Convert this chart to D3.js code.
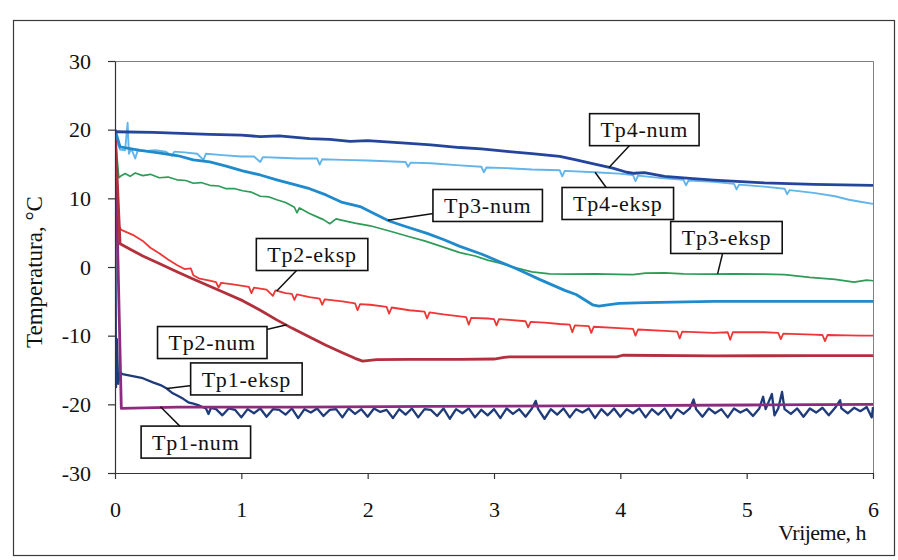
<!DOCTYPE html>
<html><head><meta charset="utf-8">
<script src="https://cdn.jsdelivr.net/npm/d3@7/dist/d3.min.js"></script>
<style>body{margin:0;background:#fff}svg{display:block}text{font-family:"Liberation Serif","DejaVu Serif",serif;fill:#111}</style>
</head><body><svg id="c" width="898" height="560"></svg>
<script>
// ---- data (time in h, temperature in °C) ----
const xTicks = [0,1,2,3,4,5,6];
const yTicks = [-30,-20,-10,0,10,20,30];
const xTitle = "Vrijeme, h";
const yTitle = "Temperatura, °C";

const tp4num = [[0,19.7],[0.3,19.6],[0.75,19.3],[1.0,19.2],[1.15,19.0],[1.3,19.1],[1.54,18.7],[1.7,18.6],[1.86,18.3],[2.0,18.4],[2.33,18.0],[2.5,17.8],[2.73,17.4],[2.9,17.2],[3.12,16.8],[3.3,16.5],[3.52,16.1],[3.65,15.6],[3.78,15.05],[3.94,14.4],[4.05,13.8],[4.11,13.65],[4.19,13.75],[4.35,13.2],[4.55,12.9],[4.74,12.66],[5.14,12.26],[5.53,12.04],[6,11.9]];
const tp4eksp = [[0,20],[0.02,18.0],[0.04,17.1],[0.08,17.0],[0.1,21.0],[0.11,16.5],[0.13,17.2],[0.16,15.8],[0.18,17.0],[0.25,16.9],[0.32,17.0],[0.4,16.8],[0.45,16.2],[0.47,16.8],[0.55,16.7],[0.65,16.5],[0.7,15.6],[0.72,16.5],[0.85,16.3],[1.0,16.1],[1.1,16.1],[1.15,15.3],[1.17,16.0],[1.3,15.9],[1.45,15.8],[1.6,15.8],[1.62,14.9],[1.64,15.7],[1.8,15.6],[2.0,15.5],[2.15,15.4],[2.3,15.3],[2.32,14.6],[2.34,15.2],[2.5,15.1],[2.73,14.8],[2.9,14.6],[2.92,13.8],[2.94,14.5],[3.1,14.4],[3.3,14.2],[3.52,14.1],[3.54,13.2],[3.56,14.0],[3.8,13.8],[3.99,13.6],[4.1,13.4],[4.12,12.5],[4.14,13.3],[4.35,12.9],[4.5,12.7],[4.52,11.9],[4.54,12.6],[4.74,12.4],[4.9,12.1],[4.92,11.3],[4.94,12.0],[5.14,11.7],[5.3,11.4],[5.32,10.6],[5.34,11.2],[5.53,10.8],[5.7,10.3],[5.81,9.8],[5.9,9.5],[6,9.2]];
const tp3num = [[0,20],[0.04,17.5],[0.2,17.0],[0.36,16.6],[0.5,16.2],[0.62,15.6],[0.75,15.3],[0.88,14.7],[1.01,14.0],[1.15,13.4],[1.28,12.7],[1.4,12.1],[1.54,11.4],[1.67,10.5],[1.8,9.4],[1.94,8.8],[2.05,7.8],[2.17,6.7],[2.3,5.9],[2.47,4.9],[2.6,4.0],[2.73,3.0],[2.9,1.9],[3.04,0.8],[3.16,-0.1],[3.26,-0.95],[3.36,-1.8],[3.46,-2.6],[3.56,-3.4],[3.65,-4.0],[3.72,-4.8],[3.78,-5.5],[3.83,-5.7],[3.9,-5.5],[3.99,-5.3],[4.2,-5.2],[4.74,-5.0],[5.5,-5.0],[6,-5.0]];
const tp3eksp = [[0,19.5],[0.03,13.0],[0.05,13.3],[0.08,13.6],[0.12,13.2],[0.16,13.7],[0.22,13.3],[0.28,13.5],[0.35,13.0],[0.42,13.1],[0.49,12.7],[0.56,12.6],[0.62,12.2],[0.68,12.3],[0.75,11.9],[0.82,11.8],[0.88,11.4],[0.95,11.4],[1.01,11.1],[1.08,10.9],[1.15,10.3],[1.22,10.2],[1.28,9.8],[1.35,9.4],[1.42,8.7],[1.44,7.9],[1.46,8.6],[1.54,7.8],[1.6,7.3],[1.65,6.9],[1.7,6.3],[1.75,7.0],[1.8,6.8],[1.9,6.4],[2.02,6.0],[2.1,5.6],[2.2,5.1],[2.33,4.4],[2.45,3.8],[2.6,2.9],[2.73,2.1],[2.85,1.6],[2.95,1.0],[3.04,0.6],[3.15,0.0],[3.3,-0.7],[3.44,-1.0],[3.6,-1.05],[3.8,-1.0],[3.99,-1.07],[4.1,-1.1],[4.2,-0.9],[4.35,-0.87],[4.5,-1.0],[4.7,-1.05],[4.9,-1.0],[5.14,-1.05],[5.3,-1.1],[5.5,-1.5],[5.7,-1.8],[5.85,-2.2],[5.95,-1.9],[6,-2.0]];
const tp2num = [[0,20],[0.04,3.4],[0.12,2.6],[0.22,1.6],[0.35,0.5],[0.49,-0.7],[0.6,-1.6],[0.7,-2.4],[0.85,-3.6],[1.01,-4.9],[1.15,-6.3],[1.28,-7.7],[1.4,-8.9],[1.54,-10.2],[1.67,-11.4],[1.8,-12.5],[1.9,-13.3],[1.96,-13.7],[2.07,-13.5],[2.33,-13.45],[2.73,-13.45],[3.0,-13.4],[3.08,-13.15],[3.12,-13.1],[3.5,-13.1],[3.97,-13.1],[4.02,-12.85],[4.74,-12.95],[5.53,-12.9],[6,-12.9]];
const tp2eksp = [[0,19.5],[0.03,6.0],[0.05,5.4],[0.1,5.0],[0.15,4.6],[0.22,3.8],[0.28,2.8],[0.35,2.0],[0.42,1.1],[0.49,0.3],[0.55,-0.3],[0.6,-0.2],[0.62,-1.2],[0.67,-1.7],[0.75,-2.0],[0.8,-2.2],[0.82,-3.0],[0.84,-2.3],[0.92,-2.5],[1.01,-2.76],[1.06,-2.9],[1.08,-3.8],[1.1,-3.0],[1.2,-3.3],[1.25,-4.2],[1.27,-3.4],[1.35,-3.8],[1.4,-3.9],[1.42,-4.8],[1.44,-4.0],[1.54,-4.4],[1.62,-4.6],[1.64,-5.5],[1.66,-4.7],[1.8,-5.0],[1.9,-5.3],[1.92,-6.3],[1.94,-5.4],[2.02,-5.5],[2.15,-5.8],[2.17,-6.8],[2.19,-5.9],[2.33,-6.3],[2.45,-6.5],[2.47,-7.5],[2.49,-6.6],[2.6,-6.9],[2.73,-7.2],[2.78,-7.3],[2.8,-8.4],[2.82,-7.4],[2.95,-7.5],[3.0,-7.6],[3.02,-8.5],[3.04,-7.6],[3.12,-7.7],[3.25,-7.9],[3.27,-8.8],[3.29,-8.0],[3.4,-8.1],[3.52,-8.3],[3.6,-8.4],[3.62,-9.5],[3.64,-8.5],[3.75,-8.6],[3.77,-9.6],[3.79,-8.7],[3.99,-8.9],[4.1,-9.0],[4.12,-10.0],[4.14,-9.1],[4.35,-9.3],[4.45,-9.4],[4.47,-10.4],[4.49,-9.4],[4.74,-9.6],[4.85,-9.5],[4.87,-10.6],[4.89,-9.5],[5.0,-9.5],[5.14,-9.5],[5.25,-9.6],[5.27,-10.5],[5.29,-9.7],[5.53,-9.85],[5.6,-9.9],[5.62,-10.8],[5.64,-9.9],[5.8,-9.95],[5.9,-10.0],[6,-10.0]];
const tp1num = [[0,20],[0.05,-20.6],[0.5,-20.4],[1.46,-20.4],[2.5,-20.3],[4.0,-20.2],[5.0,-20.1],[6,-20.0]];
const tp1eksp = [[0,20],[0.008,-17.5],[0.015,-10.5],[0.025,-17.0],[0.04,-15.4],[0.06,-15.6],[0.14,-15.9],[0.22,-16.2],[0.3,-16.8],[0.36,-17.2],[0.41,-17.7],[0.45,-18.3],[0.5,-18.8],[0.54,-19.2],[0.58,-19.7],[0.62,-19.9],[0.67,-20.2],[0.72,-20.6],[0.74,-21.4],[0.76,-20.5],
[0.80,-20.7],[0.85,-21.6],[0.90,-20.6],[0.95,-20.8],[1.00,-21.9],[1.05,-20.7],[1.10,-21.3],[1.15,-20.6],[1.20,-21.8],[1.25,-20.7],[1.30,-20.8],[1.35,-21.5],[1.40,-20.6],[1.45,-22.0],[1.50,-20.7],[1.55,-21.2],[1.60,-20.6],[1.65,-21.7],[1.70,-20.8],[1.75,-20.7],[1.80,-21.9],[1.85,-20.6],[1.90,-21.4],[1.95,-20.7],[2.00,-21.8],[2.05,-20.6],[2.10,-21.1],[2.15,-20.8],[2.20,-22.0],[2.25,-20.7],[2.30,-21.5],[2.35,-20.6],[2.40,-21.9],[2.45,-20.7],[2.50,-20.8],[2.55,-21.7],[2.60,-20.6],[2.65,-22.1],[2.70,-20.7],[2.75,-21.3],[2.80,-20.6],[2.85,-21.9],[2.90,-20.8],[2.95,-21.6],[3.00,-20.7],[3.05,-22.0],[3.10,-20.6],[3.15,-21.4],[3.20,-20.7],[3.25,-21.8],[3.30,-20.6],[3.33,-19.5],[3.35,-20.7],[3.40,-22.1],[3.45,-20.7],[3.50,-21.5],[3.55,-20.6],[3.60,-21.9],[3.65,-20.7],[3.70,-21.2],[3.75,-20.6],[3.80,-22.0],[3.85,-20.7],[3.90,-21.6],[3.95,-20.6],[4.00,-21.8],[4.05,-20.7],[4.10,-21.3],[4.15,-20.6],[4.20,-21.9],[4.25,-20.7],[4.30,-21.5],[4.35,-20.6],[4.40,-22.0],[4.45,-20.7],[4.50,-21.4],[4.55,-20.6],[4.58,-19.3],[4.60,-20.7],[4.65,-21.8],[4.70,-20.6],[4.75,-21.3],[4.80,-20.7],[4.85,-21.9],[4.90,-20.6],[4.95,-21.2],[5.00,-20.7],[5.05,-21.7],[5.10,-20.6],[5.13,-18.9],[5.15,-20.7],[5.20,-18.5],[5.22,-21.6],[5.25,-20.6],[5.28,-18.2],[5.30,-20.7],[5.35,-21.4],[5.40,-20.6],[5.45,-21.8],[5.50,-20.6],[5.55,-21.2],[5.60,-20.5],[5.65,-21.6],[5.70,-20.5],[5.74,-19.4],[5.75,-20.6],[5.80,-21.3],[5.85,-20.5],[5.90,-21.0],[5.95,-20.4],[5.99,-21.9],[6.00,-20.4]];

// series drawing order (experimental first, numerical on top)
const seriesNames = ["Tp1-eksp","Tp2-eksp","Tp3-eksp","Tp4-eksp","Tp1-num","Tp2-num","Tp3-num","Tp4-num"];
const seriesData  = [tp1eksp, tp2eksp, tp3eksp, tp4eksp, tp1num, tp2num, tp3num, tp4num];
const seriesColor = ["#1f3b7a","#ef3636","#2e9b57","#62b5ea","#8c2b7f","#b22f3b","#1f8bcc","#25449c"];
const seriesWidth = [2.3,1.8,1.7,1.9,2.8,2.8,2.8,2.8];

// callouts: label, box centre (t, T), leader target (t, T)
const calloutText   = ["Tp4-num","Tp4-eksp","Tp3-num","Tp3-eksp","Tp2-eksp","Tp2-num","Tp1-eksp","Tp1-num"];
const calloutBox    = [[4.19,20.0],[3.98,9.25],[2.95,8.96],[4.84,4.3],[1.56,1.82],[0.77,-11.0],[1.04,-16.3],[0.64,-25.5]];
const calloutTarget = [[3.91,14.5],[3.80,13.8],[2.16,6.8],[4.77,-1.0],[1.28,-3.5],[1.36,-8.4],[0.41,-17.7],[0.36,-20.35]];

// ---- drawing ----
const FONT = "'Liberation Serif','DejaVu Serif',serif";
const svg = d3.select("#c");
const M = {left:115, right:873, top:61, bottom:473};
const x = d3.scaleLinear().domain([0,6]).range([M.left, M.right]);
const y = d3.scaleLinear().domain([-30,30]).range([M.bottom, M.top]);

svg.append("rect").attr("x",0).attr("y",0).attr("width",898).attr("height",560).attr("fill","#fff");
svg.append("rect").attr("x",13.5).attr("y",20.5).attr("width",881).attr("height",535)
  .attr("fill","none").attr("stroke","#3a3a3a").attr("stroke-width",1.2);
svg.append("path").attr("d",`M${M.left},${M.top+0.5}H${M.right+0.5}V${M.bottom}`)
  .attr("fill","none").attr("stroke","#808080").attr("stroke-width",1);

svg.append("clipPath").attr("id","pc").append("rect")
  .attr("x",M.left).attr("y",M.top).attr("width",M.right-M.left+1).attr("height",M.bottom-M.top);

const line = d3.line().x(d=>x(d[0])).y(d=>y(d[1]));
const g = svg.append("g").attr("clip-path","url(#pc)");
seriesData.forEach((s,i)=>{
  g.append("path").datum(s).attr("d",line).attr("fill","none")
   .attr("stroke",seriesColor[i]).attr("stroke-width",seriesWidth[i])
   .attr("stroke-linejoin","round");
});

const yAxis = svg.append("g").attr("transform",`translate(${M.left},0)`)
  .call(d3.axisLeft(y).tickValues(yTicks).tickSize(7).tickSizeOuter(0).tickPadding(17).tickFormat(d=>String(d)));
const xAxis = svg.append("g").attr("transform",`translate(0,${M.bottom})`)
  .call(d3.axisBottom(x).tickValues(xTicks).tickSize(6).tickSizeOuter(0).tickPadding(22).tickFormat(d=>String(d)));
[yAxis,xAxis].forEach(a=>{
  a.attr("font-family",FONT).attr("font-size",22);
  a.selectAll("path,line").attr("stroke","#333").attr("stroke-width",1.2);
  a.selectAll("text").style("font-family",FONT).style("font-size","22px").attr("fill","#111");
});

svg.append("text").attr("transform","translate(42,272) rotate(-90)").attr("text-anchor","middle")
  .style("font-family",FONT).style("font-size","23px").text(yTitle);
svg.append("text").attr("x",866).attr("y",540).attr("text-anchor","end")
  .style("font-family",FONT).style("font-size","22px").attr("letter-spacing","-0.5").text(xTitle);

calloutText.forEach((t,i)=>{
  const cx = x(calloutBox[i][0]), cy = y(calloutBox[i][1]);
  const tx = x(calloutTarget[i][0]), ty = y(calloutTarget[i][1]);
  const cg = svg.append("g");
  cg.append("line").attr("x1",tx).attr("y1",ty).attr("x2",cx).attr("y2",cy)
    .attr("stroke","#111").attr("stroke-width",1.5);
  const rect = cg.append("rect");
  const txt = cg.append("text").attr("x",cx).attr("y",cy).attr("text-anchor","middle")
    .attr("dy","0.35em").style("font-family",FONT).style("font-size","22px").attr("letter-spacing","0.8").text(t);
  const bb = txt.node().getBBox();
  const w = bb.width + 22, h = 32;
  rect.attr("x",cx-w/2).attr("y",cy-h/2).attr("width",w).attr("height",h)
    .attr("fill","#fff").attr("stroke","#111").attr("stroke-width",1.6);
});
</script></body></html>
